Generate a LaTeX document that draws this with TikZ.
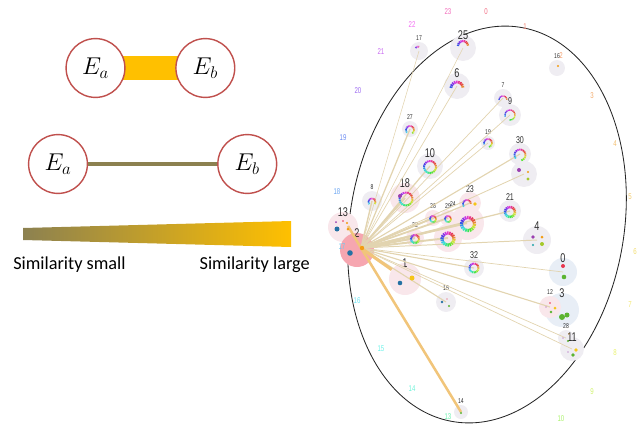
\documentclass[tikz,border=0pt]{standalone}
\usepackage{fontspec}
\setsansfont{Carlito}
\newfontfamily\condfont[FakeStretch=0.72]{Liberation Sans}
\usepackage[rgb]{xcolor}
\usepackage{tikz}
\usetikzlibrary{positioning,backgrounds}
\definecolor{entityred}{HTML}{C0504D}
\definecolor{simgold}{HTML}{FFC000}
\definecolor{simolive}{HTML}{8C8150}
\definecolor{edgetan}{HTML}{E2D4B0}
\definecolor{edgeorange}{HTML}{F1C57A}
\definecolor{bubgrey}{HTML}{EFEDF2}
\definecolor{bubpink}{HTML}{F9E7EB}
\definecolor{bubblue}{HTML}{E8EEF6}
\definecolor{bubred}{HTML}{F6A6B0}
\definecolor{labgrey}{HTML}{2E2E2E}
\definecolor{dotblue}{HTML}{2471A3}
\definecolor{dotorange}{HTML}{F39C12}
\definecolor{dotyellow}{HTML}{F5C518}
\definecolor{dotgreen}{HTML}{5BB431}
\definecolor{dotpurple}{HTML}{9B3FB0}
\definecolor{dotred}{HTML}{E8364F}
\definecolor{dotteal}{HTML}{1FA2A8}
\definecolor{dotlime}{HTML}{A5C92A}
\newcommand{\huering}[6]{% x, y, radius, first angle, last angle, width
	\pgfmathtruncatemacro\ringnext{#4+20}
	\foreach \a in {#4,\ringnext,...,#5}{
		\pgfmathtruncatemacro\hue{mod(400+\a+9,360)}
		\definecolor{ringhue}{Hsb}{\hue,0.75,0.9}
		\draw[ringhue,line width=#6] (#1,#2) ++(\a:#3) arc[start angle=\a,end angle=\a+16,radius=#3];
	}
}

\begin{document}
\begin{tikzpicture}[
		x=0.025cm, y=-0.025cm,
		entity/.style={circle,draw=entityred,line width=1pt,fill=white,inner sep=0pt,
			minimum size=1.47cm,font=\fontsize{16.5}{18}\selectfont},
		bubble/.style={circle,inner sep=0pt,draw=none},
		lab big/.style={anchor=center,font=\condfont\fontsize{9}{9}\selectfont,text=labgrey},
		lab mid/.style={anchor=center,yshift=0.06cm,font=\condfont\fontsize{7}{7}\selectfont,text=labgrey},
		lab small/.style={anchor=center,yshift=0.1cm,font=\condfont\fontsize{5}{5}\selectfont,text=labgrey},
		ring tick/.style={font=\condfont\fontsize{6}{6}\selectfont,inner sep=0pt},
		sim text/.style={font=\sffamily\fontsize{13}{15}\selectfont,inner sep=0pt}
		]
		\useasboundingbox (0,0) rectangle (641,429);
		% legend
		\node[entity] (ea1) at (95.5,68) {$E_a$};
		\node[entity,right=1.24cm of ea1] (eb1) {$E_b$};
		\begin{pgfonlayer}{background}
			\draw[simgold,line width=16.4pt] (ea1.center) -- (eb1.center);
		\end{pgfonlayer}
		\node[entity] (ea2) at (58,164) {$E_a$};
		\node[entity,right=3.225cm of ea2] (eb2) {$E_b$};
		\draw[simolive,line width=3.2pt] (ea2) -- (eb2);
		\shade[left color=simolive,right color=simgold] (23,228) -- (291,221) -- (291,247) -- (23,240) -- cycle;
		\node[sim text,anchor=west] (simsmall) at (13,265) {Similarity small};
		\node[sim text,anchor=east] (simlarge) at (310,265) {Similarity large};
		% graph
		\draw[black!85,line width=0.6pt] (487,224.5) ellipse[x radius=137,y radius=200,rotate=-10];
		\foreach \nm/\x/\y/\r/\bg/\txt/\sz in {
			n17/419/51/9/bubgrey/17/small, n25/463/48/13/bubgrey/25/big,
			n16/557/68/8/bubgrey/16/small, n6/457/86/13/bubgrey/6/big,
			n7/503/98/9/bubgrey/7/small, n9/510/115/11/bubgrey/9/mid,
			n27/410/129/8/bubgrey/27/small, n19/488/143/7/bubgrey/19/small,
			n30/520/154/11/bubgrey/30/mid, nx/524/174/13/bubgrey/{}/mid,
			n10/430/166/13/bubgrey/10/big, n8/372/201/10/bubgrey/8/small,
			n18/405/198/15/bubpink/18/big, n23/470/203/11/bubpink/23/mid,
			n21/510/211/11/bubgrey/21/mid, n26/433/218/8/bubpink/26/small,
			n29/448/218/8/bubpink/29/small, n24/467/223/17/bubpink/{}/mid,
			n22/415/238/9/bubpink/22/small, ny/448/238/14/bubpink/{}/mid,
			n13/343/227/15/bubpink/13/big, n1/405/279/16/bubpink/1/big,
			n32/474/268/10/bubgrey/32/mid, n4/537/240/14/bubgrey/4/big,
			n0/563/272/14/bubblue/0/big, n15/446/302/10/bubgrey/15/small,
			n3/562/310/17/bubblue/3/big, n12/550/307/11/bubpink/12/small,
			n28/566/338/8/bubgrey/28/small, n11/572/349/12/bubgrey/11/big,
			n14/461/412/7/bubgrey/14/small, n2/357/250/17/bubred/2/big}
			\node[bubble,fill=\bg,minimum size=2*\r*0.025cm,label={[lab \sz]90:\txt}] (\nm) at (\x,\y) {};
		\node[lab small] (l24) at (453,208) {24};
		% similarity edges
		\foreach \t/\w/\c in {
			n17/0.4/edgetan, n25/0.4/edgetan, n6/0.5/edgetan, n7/0.5/edgetan,
			n9/0.5/edgetan, n19/0.5/edgetan, n30/0.8/edgetan, nx/0.6/edgetan,
			n27/0.9/edgetan, n10/0.9/edgetan, n8/1.0/edgetan, n18/1.2/edgetan,
			n23/0.9/edgetan, n21/0.9/edgetan, n26/1.3/edgetan, n29/1.3/edgetan,
			n24/1.5/edgetan, n22/1.6/edgetan, ny/1.4/edgetan, n4/0.7/edgetan,
			n0/0.5/edgetan, n32/0.8/edgetan, n15/0.8/edgetan, n12/0.8/edgetan,
			n28/0.5/edgetan, n11/0.5/edgetan, n14/1.8/edgeorange}
			\draw[\c,line width=\w pt] ([shift={(4,-2)}]n2.center) -- (\t.center);
		\draw[edgeorange,line width=2.2pt] ([shift={(4,-2)}]n2.center) -- (n1);
		\draw[edgeorange,line width=1.8pt] ([shift={(5,-1)}]n13.center) -- ([shift={(4,-2)}]n2.center);
		% colour wheels
		\huering{463}{46}{5}{-180}{-20}{1.6pt}
		\huering{457}{88}{6}{-180}{-20}{2pt}
		\huering{418}{49}{2.5}{-160}{-80}{1.2pt}
		\huering{503}{100}{4}{-180}{-20}{1pt}
		\huering{510}{115}{5}{-200}{80}{1pt}
		\huering{410}{130}{4}{-220}{40}{1.2pt}
		\huering{488}{143}{4}{-200}{60}{1.2pt}
		\huering{520}{155}{5.5}{-220}{60}{1.3pt}
		\huering{430}{167}{6}{-180}{160}{1.4pt}
		\huering{372}{202}{3.5}{-220}{20}{1.2pt}
		\huering{406}{199}{6.5}{-180}{160}{1.4pt}
		\huering{467}{204}{4}{-220}{-20}{1.2pt}
		\huering{510}{212}{5}{0}{340}{1.8pt}
		\huering{433}{219}{3}{0}{340}{1.2pt}
		\huering{448}{219}{3}{0}{340}{1.2pt}
		\huering{468}{224}{6.5}{0}{340}{2.3pt}
		\huering{415}{239}{4}{0}{340}{1.5pt}
		\huering{448}{239}{6}{0}{340}{2.3pt}
		\huering{474}{268}{4.5}{0}{340}{1.4pt}
		% dots
		\fill[dotpurple] (400,196) circle (2);
		\fill[dotyellow] (475,204) circle (1.8);
		\fill[dotorange] (558,66) circle (1.2);
		\fill[dotpurple] (519,170) circle (2);
		\fill[dotorange] (528,172) circle (1.2);
		\fill[dotlime] (528,179) circle (1.7);
		\fill[dotblue] (337,229) circle (2.5);
		\fill[dotpurple] (336,222) circle (1);
		\fill[dotred] (343,221) circle (0.8);
		\fill[dotorange] (347,223) circle (1.2);
		\fill[dotorange] (348,229) circle (1.5);
		\fill[dotblue] (350,253) circle (2.8);
		\fill[dotorange] (362,248) circle (2.2);
		\fill[dotblue] (400,283) circle (2.3);
		\fill[dotyellow] (412,278) circle (2.5);
		\fill[dotpurple] (533,237) circle (1.8);
		\fill[dotorange] (542,237) circle (1.5);
		\fill[dotteal] (533,245) circle (1.2);
		\fill[dotlime] (542,244) circle (2);
		\fill[dotred] (563,266) circle (2);
		\fill[dotgreen] (564,277) circle (2.3);
		\fill[dotblue] (442,302) circle (1.3);
		\fill[dotred] (447,299) circle (0.6);
		\fill[dotgreen] (449,306) circle (1.2);
		\fill[dotgreen] (562,317) circle (3);
		\fill[dotgreen] (567,315) circle (2.5);
		\fill[dotred] (550,303) circle (0.9);
		\fill[dotpurple] (546,307) circle (0.6);
		\fill[dotyellow] (555,308) circle (1.5);
		\fill[dotgreen] (551,312) circle (1.3);
		\fill[dotpurple] (563,338) circle (0.7);
		\fill[dotgreen] (568,341) circle (1.2);
		\fill[dotorange] (569,334) circle (0.7);
		\fill[dotpurple] (568,352) circle (0.6);
		\fill[dotyellow] (576,350) circle (1.8);
		\fill[dotgreen] (573,355) circle (1.8);
		\fill[dotgreen] (461,413) circle (1.2);
		% ring positions
		\foreach \i/\x/\y/\h in {
			0/486/12/350, 1/525/27/8, 2/561/56/22, 3/592/96/28, 4/615/144/36,
			5/630/197/42, 6/635/252/50, 7/630/305/55, 8/615/353/64, 9/592/392/76,
			10/561/419/92, 13/448/417/150, 14/412/389/168, 15/381/349/176,
			16/357/301/186, 17/342/247/198, 18/337/192/214, 19/343/138/226,
			20/358/91/262, 21/381/52/282, 22/412/25/300, 23/448/12/325}{
			\definecolor{tickhue}{Hsb}{\h,0.55,0.95}
			\node[ring tick,text=tickhue] (t\i) at (\x,\y) {\i};
		}
	\end{tikzpicture}
\end{document}
